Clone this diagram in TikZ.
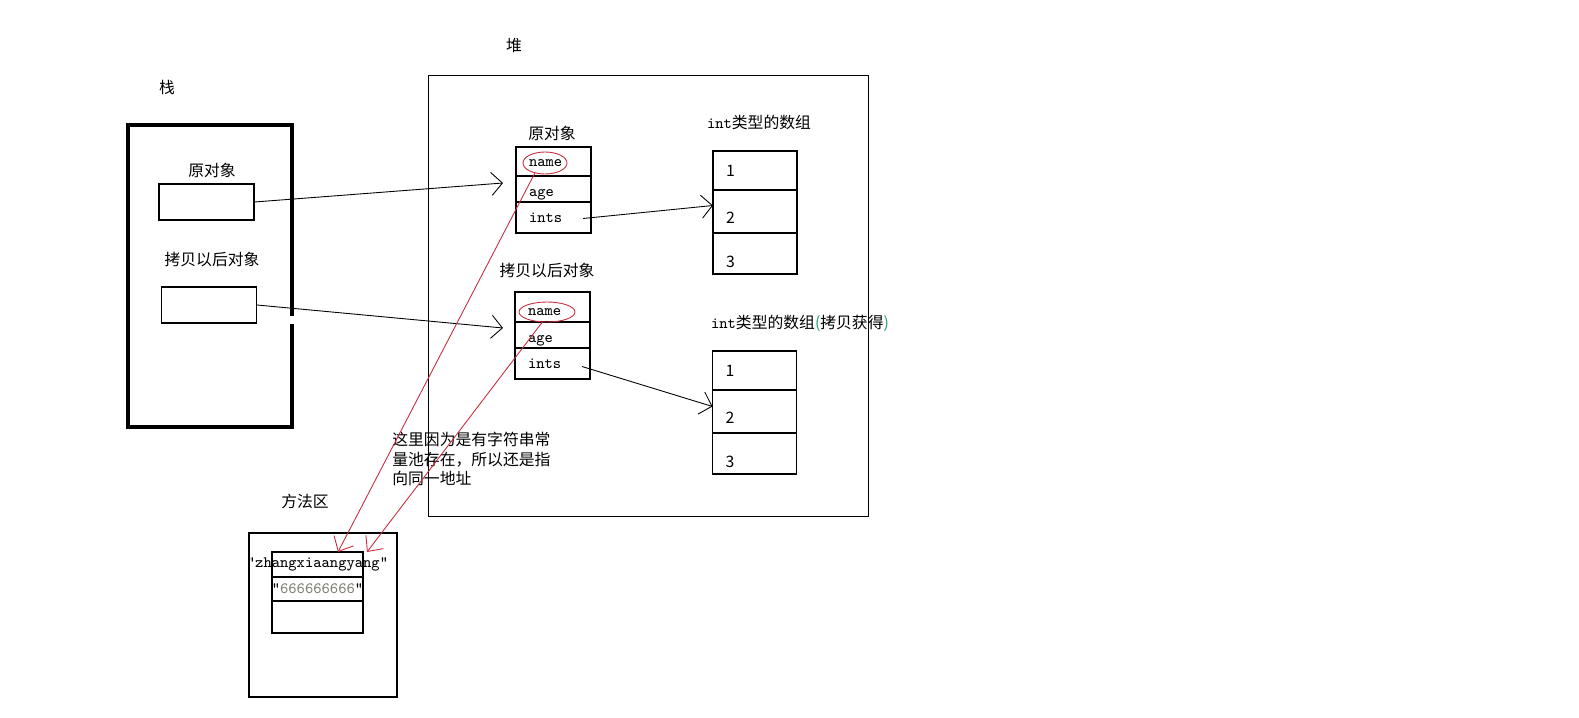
\documentclass[tikz,border=0pt]{standalone}
\usepackage{fontspec}
\setmainfont{Noto Sans CJK SC}
\usepackage{tikz}
\usetikzlibrary{arrows.meta,positioning,shapes.geometric}

\definecolor{linkred}{RGB}{200,45,60}
\definecolor{poolgray}{RGB}{125,128,112}
\definecolor{parengreen}{RGB}{40,160,120}

\begin{document}
\begin{tikzpicture}[
    x=0.02cm, y=-0.02cm,
    font=\fontsize{9}{11}\selectfont,
    node distance=0pt,
    ref/.style={draw=black, line width=0.6pt, minimum width=1.9cm, minimum height=0.72cm},
    cell/.style={draw=black, line width=0.6pt, outer sep=0pt, inner xsep=0.26cm, inner ysep=0pt,
                 text width=0.98cm, align=left, text depth=0pt, font=\fontsize{9}{11}\selectfont\ttfamily},
    slot/.style={draw=black, line width=0.6pt, outer sep=0pt, inner xsep=0.26cm, inner ysep=0pt,
                 text width=1.16cm, align=left, text depth=0pt},
    poolcell/.style={draw=black, line width=0.6pt, outer sep=0pt, minimum width=1.82cm},
    area/.style={draw=black, line width=0.6pt},
    ring/.style={ellipse, draw=linkred, line width=0.5pt, inner sep=0pt},
    arr/.style={-{Straight Barb[length=2.2mm,width=4.6mm]}, line width=0.5pt},
    redarr/.style={-{Straight Barb[length=2.4mm,width=4.4mm]}, draw=linkred, line width=0.5pt}
]
  \useasboundingbox (0,0) rectangle (1579,717);

  % stack
  \draw[line width=2.3pt] (292,316) -- (292,125) -- (128,125) -- (128,427) -- (292,427) -- (292,324);
  \node (stacklbl) at (167,87) {栈};
  \node (s1lbl) at (212,170) {原对象};
  \node[ref] (s1) at (206.5,202) {};
  \node (s2lbl) at (212,260) {拷贝以后对象};
  \node[ref] (s2) at (209,305) {};

  % heap
  \node[area, minimum width=8.82cm, minimum height=8.84cm] (heap) at (648.5,296) {};
  \node (heaplbl) at (514,46) {堆};

  \node (o1lbl) at (552,133) {原对象};
  \node[cell, minimum height=0.58cm, text height=5.6pt] (o1name) at (553.5,161.5) {name};
  \node[cell, minimum height=0.52cm, text height=8.4pt, below=of o1name] (o1age) {age};
  \node[cell, minimum height=0.62cm, text height=6.2pt, below=of o1age] (o1ints) {ints};

  \node (o2lbl) at (547,271) {拷贝以后对象};
  \node[cell, minimum height=0.60cm, text height=9.5pt] (o2name) at (552.5,307) {name};
  \node[cell, minimum height=0.52cm, text height=8.4pt, below=of o2name] (o2age) {age};
  \node[cell, minimum height=0.62cm, text height=6.2pt, below=of o2age] (o2ints) {ints};

  \node (a1lbl) at (759,122) {{\ttfamily int}类型的数组};
  \node[slot, minimum height=0.78cm] (a1c1) at (755,170.5) {1};
  \node[slot, minimum height=0.86cm, text height=14pt, below=of a1c1] (a1c2) {2};
  \node[slot, minimum height=0.82cm, text height=16pt, below=of a1c2] (a1c3) {3};

  \node (a2lbl) at (800,323) {{\ttfamily int}类型的数组\textcolor{parengreen}{(}拷贝获得\textcolor{parengreen}{)}};
  \node[slot, minimum height=0.78cm] (a2c1) at (754.5,370.5) {1};
  \node[slot, minimum height=0.86cm, text height=14pt, below=of a2c1] (a2c2) {2};
  \node[slot, minimum height=0.82cm, text height=16pt, below=of a2c2] (a2c3) {3};

  % method area
  \node (methodlbl) at (305,501) {方法区};
  \node[area, minimum width=2.96cm, minimum height=3.28cm] (method) at (323,615) {};
  \node[poolcell, minimum height=0.50cm] (p1) at (317.5,564.5) {};
  \node[poolcell, minimum height=0.48cm, below=of p1] (p2) {};
  \node[poolcell, minimum height=0.64cm, below=of p2] (p3) {};
  \node[font=\fontsize{9}{11}\selectfont\ttfamily] (str1) at (p1) {"zhangxiaangyang"};
  \node[font=\fontsize{9}{11}\selectfont\ttfamily] (str2) at (p2) {"\textcolor{poolgray}{666666666}"};

  \node[align=left, anchor=north west, inner sep=0pt] (note) at (392,432)
    {这里因为是有字符串常\\量池存在，所以还是指\\向同一地址};

  % references
  \draw[arr] (s1.east) -- ([shift={(-13,-6)}]o1age.west);
  \draw[arr] (s2.east) -- ([shift={(-12,-7)}]o2age.west);
  \draw[arr] ([shift={(-8,1)}]o1ints.east) -- ([shift={(0,-6)}]a1c2.west);
  \draw[arr] ([shift={(-8,3)}]o2ints.east) -- ([shift={(0,-5)}]a2c2.west);

  \node[ring, minimum width=0.88cm, minimum height=0.44cm] (e1) at (545,163) {};
  \node[ring, minimum width=1.12cm, minimum height=0.40cm] (e2) at (547,312) {};
  \draw[redarr] (e1.225) -- ([xshift=0.41cm]p1.north);
  \draw[redarr] (e2.245) -- ([xshift=0.99cm]p1.north);
\end{tikzpicture}
\end{document}
